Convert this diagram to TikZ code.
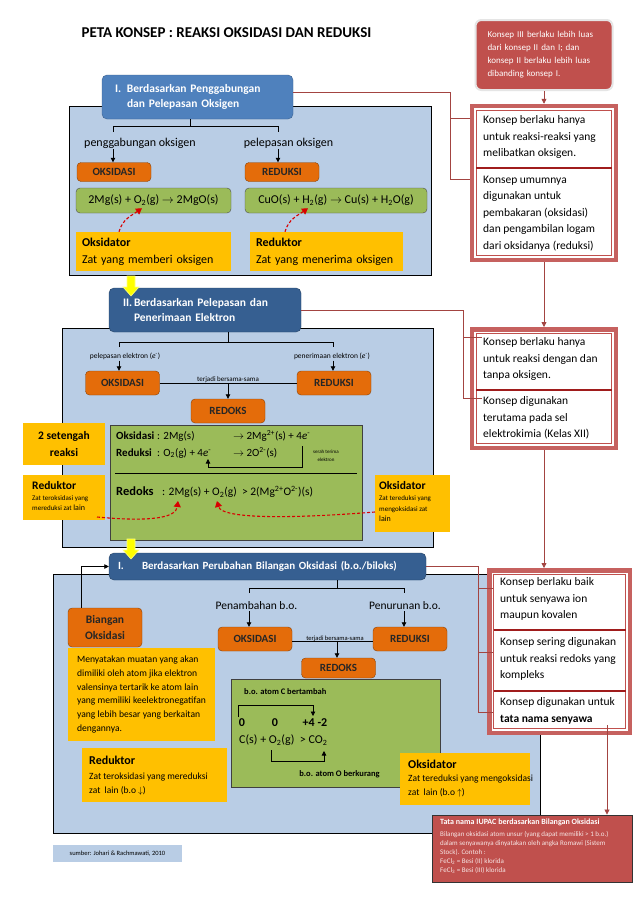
\documentclass[tikz,border=0pt]{standalone}
\usepackage{fontspec}
\setmainfont{Carlito}
\usetikzlibrary{arrows.meta}

\definecolor{panelbiru}{HTML}{B9CDE5}
\definecolor{birumuda}{HTML}{4F81BD}
\definecolor{birutua}{HTML}{365F91}
\definecolor{oranye}{HTML}{E46C0A}
\definecolor{hijau}{HTML}{9BBB59}
\definecolor{kuning}{HTML}{FFC000}
\definecolor{kuningterang}{HTML}{FFFF00}
\definecolor{merahbata}{HTML}{C0504D}
\definecolor{merahtua}{HTML}{A01C1C}

\newcommand\fsz[2]{\fontsize{#1}{#2}\selectfont}

\begin{document}
\begin{tikzpicture}[x=1pt,y=-1pt,
  panel/.style={draw=black, line width=0.9, fill=panelbiru},
  kepala/.style={draw=birumuda!75!black, fill=birumuda, rounded corners=5, text=white, font=\fsz{11.5}{15.5}\bfseries, align=left, inner ysep=0},
  kepalagelap/.style={kepala, draw=birutua!70!black, fill=birutua},
  kotakoranye/.style={draw=oranye!60!black, fill=oranye, rounded corners=4, font=\fsz{11}{13}\bfseries, text=black!85, minimum width=74, minimum height=24, inner sep=0},
  persamaan/.style={draw=black!70, fill=hijau, rounded corners=4, font=\fsz{12}{14}, minimum height=25, inner sep=0},
  panelhijau/.style={draw=black!75, line width=0.9, fill=hijau},
  kotakkuning/.style={fill=kuning, inner sep=0},
  keterangan/.style={inner sep=1, font=\fsz{12}{14}},
  pil/.style={-{Triangle[length=4.5,width=4.5]}, line width=0.8},
  kurung/.style={line width=0.8},
  merahputus/.style={draw=red!85!black, dash pattern=on 3pt off 2pt, line width=1.1, -{Triangle[length=6,width=7]}},
  garis/.style={draw=merahbata!85!black, line width=0.8},
  garispanah/.style={garis, -{Triangle[length=5,width=5]}},
  grup/.style={draw=merahbata!90!white, line width=4.5, fill=white},
  grupdalam/.style={draw=merahbata, line width=0.7},
  pemisah/.style={draw=merahtua, line width=1.6},
  konsep/.style={anchor=north west, inner sep=0, font=\fsz{11.5}{16.6}, align=left},
  panahkuning/.style={fill=kuningterang, draw=kuningterang!50!white, line width=0.6}
]
\useasboundingbox (0,0) rectangle (638,903);
\fill[white] (0,0) rectangle (638,903);

% judul
\node[anchor=west, font=\fsz{15}{17}\bfseries] (judul) at (78,33) {PETA KONSEP : REAKSI OKSIDASI DAN REDUKSI};

% konsep I
\node[panel, minimum width=362, minimum height=169] (pan1) at (250,190.5) {};
\node[kepala, text width=165, inner xsep=13, minimum height=44] (kep1) at (197.5,97) {\makebox[12pt][l]{I.}Berdasarkan Penggabungan\\\hspace*{12pt}dan Pelepasan Oksigen};
\coordinate (c10) at (190,126);
\coordinate (c11) at (113,126);
\coordinate (c12) at (278,126);
\draw[kurung] (kep1.south -| c10) -- (c10);
\draw[kurung] (c11) ++(0,6) -- (c11) -- (c12) -- ++(0,6);
\node[keterangan] (gab) at (140,143) {penggabungan oksigen};
\node[keterangan] (lep) at (288.5,143) {pelepasan oksigen};
\node[kotakoranye, minimum height=19] (oks1) at (114,172) {OKSIDASI};
\node[kotakoranye, minimum height=19] (red1) at (282,172) {REDUKSI};
\draw[pil] (gab.south -| c11) -- (oks1.north -| c11);
\draw[pil] (lep.south -| c12) -- (red1.north -| c12);
\node[persamaan, minimum width=155] (pers1) at (153.5,200.5) {2Mg(s) + O\textsubscript{2}(g) $\rightarrow$ 2MgO(s)};
\node[persamaan, minimum width=182] (pers2) at (336,200.5) {CuO(s) + H\textsubscript{2}(g) $\rightarrow$ Cu(s) + H\textsubscript{2}O(g)};
\node[kotakkuning, minimum width=155, minimum height=39, text width=143, inner xsep=6, align=left, font=\fsz{12}{17}] (oksi1) at (153.5,251.5) {\textbf{Oksidator}\\Zat yang memberi oksigen};
\node[kotakkuning, minimum width=153, minimum height=39, text width=141, inner xsep=6, align=left, font=\fsz{12}{17}] (redu1) at (326.5,251.5) {\textbf{Reduktor}\\Zat yang menerima oksigen};
\draw[merahputus] ([xshift=-34.5]oksi1.north) to[out=75,in=215] ([xshift=-11.5,yshift=5]pers1.south);
\draw[merahputus] ([xshift=-41.5]redu1.north) to[out=75,in=215] ([xshift=-28,yshift=5]pers2.south);

% konsep II
\node[panel, minimum width=371, minimum height=219] (pan2) at (247.5,437.5) {};
\node[kepalagelap, text width=164, inner xsep=14, minimum height=44] (kep2) at (205,310) {\makebox[11pt][l]{II.}Berdasarkan Pelepasan dan\\\hspace*{11pt}Penerimaan Elektron};
\filldraw[panahkuning] (127,276) -- (135,276) -- (135,287) -- (139,287) -- (131,296) -- (123,287) -- (127,287) -- cycle;
\coordinate (c20) at (228,342);
\coordinate (c21) at (119,342);
\coordinate (c22) at (333,342);
\draw[kurung] (kep2.south -| c20) -- (c20);
\draw[kurung] (c21) ++(0,5) -- (c21) -- (c22) -- ++(0,5);
\node[keterangan, font=\fsz{7.5}{9}] (lep2) at (125,356) {pelepasan elektron (\textit{e}\textsuperscript{-})};
\node[keterangan, font=\fsz{7.5}{9}] (ter2) at (332,356) {penerimaan elektron (\textit{e}\textsuperscript{-})};
\node[kotakoranye] (oks2) at (122.5,383) {OKSIDASI};
\node[kotakoranye] (red2) at (334,383) {REDUKSI};
\draw[pil] (lep2.south -| c21) -- (oks2.north -| c21);
\draw[pil] (ter2.south -| c22) -- (red2.north -| c22);
\coordinate (c23) at (oks2.east -| c20);
\draw[kurung] (oks2.east) -- (red2.west);
\node[inner sep=0, font=\fsz{7}{8}] (bersama2) at (228,379.5) {terjadi bersama-sama};
\node[kotakoranye] (rdk2) at (228,411) {REDOKS};
\draw[pil] (c23) -- (rdk2.north);
\node[panelhijau, minimum width=252, minimum height=115] (grn2) at (236,482.5) {};
\node[anchor=west, inner sep=0, font=\fsz{11}{12}] (oks2a) at (116,436) {\makebox[41pt][l]{\textbf{Oksidasi}}: 2Mg(s)};
\node[anchor=west, inner sep=0, font=\fsz{11}{12}] (oks2b) at (233,436) {$\rightarrow$ 2Mg\textsuperscript{2+}(s) + 4\textit{e}\textsuperscript{-}};
\node[anchor=west, inner sep=0, font=\fsz{11}{12}] (red2a) at (116,453) {\makebox[41pt][l]{\textbf{Reduksi}}: O\textsubscript{2}(g) + 4\textit{e}\textsuperscript{-}};
\node[anchor=west, inner sep=0, font=\fsz{11}{12}] (red2b) at (233,453) {$\rightarrow$ 2O\textsuperscript{2-}(s)};
\coordinate (st2) at (302,446);
\coordinate (st3) at (208,459);
\draw[pil] (st2) -- ++(0,21) -| (st3);
\node[align=center, inner sep=0, font=\fsz{5}{7.5}] (serah) at (326,456) {serah terima\\elektron};
\draw[line width=1] (115,473) -- (357,473);
\node[anchor=west, inner sep=0, font=\fsz{11.5}{13}] (rdk2a) at (116,492) {\makebox[46pt][l]{\fsz{12.5}{13}\bfseries Redoks}: 2Mg(s) + O\textsubscript{2}(g) \ > 2(Mg\textsuperscript{2+}O\textsuperscript{2-})(s)};
\node[kotakkuning, minimum width=82, minimum height=42, align=center, font=\fsz{11.5}{17}\bfseries] (stg) at (64,444) {2 setengah\\reaksi};
\node[kotakkuning, minimum width=82, minimum height=45] (redu2) at (64,497.5) {};
\node[anchor=west, inner sep=0, font=\fsz{11.5}{13}\bfseries] (redu2j) at (32,485) {Reduktor};
\node[anchor=north west, inner sep=0, align=left, font=\fsz{7}{10}] (redu2i) at (32,495.7) {Zat teroksidasi yang\\mereduksi zat {\fsz{8}{10}lain}};
\node[kotakkuning, minimum width=75, minimum height=57] (oksi2) at (412.5,503.5) {};
\node[anchor=west, inner sep=0, font=\fsz{11.5}{13}\bfseries] (oksi2j) at (379,485) {Oksidator};
\node[anchor=north west, inner sep=0, align=left, font=\fsz{7}{10.5}] (oksi2i) at (379,495.7) {Zat tereduksi yang\\mengoksidasi zat\\{\fsz{8}{10.5}lain}};
\coordinate (awalR) at (97,517);
\coordinate (awalO) at (375,512);
\coordinate (ujungMg) at (178,501);
\coordinate (ujungO) at (217,501);
\draw[merahputus] (awalR) .. controls (150,522) and (176,518) .. (ujungMg);
\draw[merahputus] (awalO) .. controls (300,518) and (222,520) .. (ujungO);

% konsep III
\node[panel, minimum width=487, minimum height=259] (pan3) at (296.5,703.5) {};
\node[kepalagelap, text width=299, inner xsep=9, minimum height=27, font=\fsz{11}{13}\bfseries] (kep3) at (267.5,566.5) {\makebox[24pt][l]{I.}Berdasarkan Perubahan Bilangan Oksidasi (b.o./biloks)};
\filldraw[panahkuning] (127,539) -- (135,539) -- (135,550) -- (139,550) -- (131,559) -- (123,550) -- (127,550) -- cycle;
\node[kotakoranye, minimum width=74, minimum height=39, align=center, font=\fsz{11.5}{16}\bfseries] (bia) at (105,627.5) {Biangan\\Oksidasi};
\draw[pil] ([xshift=-24]bia.north) |- (kep3.west);
\node[kotakkuning, minimum width=147, minimum height=93, align=left, font=\fsz{9.6}{13.8}] (defbo) at (141.5,694.5) {Menyatakan muatan yang akan\\dimiliki oleh atom jika elektron\\valensinya tertarik ke atom lain\\yang memiliki keelektronegatifan\\yang lebih besar yang berkaitan\\dengannya.};
\coordinate (c30) at (337,588);
\coordinate (c31) at (249,588);
\coordinate (c32) at (404,588);
\draw[kurung] (kep3.south -| c30) -- (c30);
\draw[kurung] (c31) ++(0,5) -- (c31) -- (c32) -- ++(0,5);
\node[keterangan, font=\fsz{11.5}{14}] (tam) at (256.5,606) {Penambahan b.o.};
\node[keterangan, font=\fsz{11.5}{14}] (tur) at (405,606) {Penurunan b.o.};
\node[kotakoranye] (oks3) at (255,639) {OKSIDASI};
\node[kotakoranye] (red3) at (410,639) {REDUKSI};
\draw[pil] (tam.south -| c31) -- (oks3.north -| c31);
\draw[pil] (tur.south -| c32) -- (red3.north -| c32);
\draw[kurung] ([yshift=-2]oks3.east) -- ([yshift=-2]red3.west);
\coordinate (c33) at (337,641);
\node[inner sep=0, font=\fsz{6.5}{8}] (bersama3) at (335,638.5) {terjadi bersama-sama};
\node[kotakoranye, minimum height=20] (rdk3) at (338.5,668) {REDOKS};
\draw[pil] (c33) -- (rdk3.north -| c33);
\node[panelhijau, minimum width=209, minimum height=108] (grn3) at (335.5,733) {};
\node[anchor=west, inner sep=0, font=\fsz{8.5}{10}\bfseries] (naikC) at (244,692) {b.o. atom C bertambah};
\coordinate (bc1) at (238,717);
\coordinate (bc2) at (313,716);
\draw[pil] (bc1) -- ++(0,-12) -| (bc2);
\node[inner sep=0, font=\fsz{12}{14}\bfseries] (bo1) at (242,723) {0};
\node[inner sep=0, font=\fsz{12}{14}\bfseries] (bo2) at (275,723) {0};
\node[inner sep=0, font=\fsz{12}{14}\bfseries] (bo3) at (315,723) {+4 -2};
\node[anchor=west, inner sep=0, font=\fsz{12}{14}] (rx3) at (239,740) {C(s) + O\textsubscript{2}(g) \ > CO\textsubscript{2}};
\coordinate (bo4) at (271,750);
\coordinate (bo5) at (324,751);
\draw[pil] (bo4) -- ++(0,11) -| (bo5);
\node[inner sep=0, font=\fsz{8.5}{10}\bfseries] (turunO) at (339.5,774) {b.o. atom O berkurang};
\node[kotakkuning, minimum width=145, minimum height=54] (redu3) at (154.5,775) {};
\node[anchor=west, inner sep=0, font=\fsz{12}{14}\bfseries] (redu3j) at (89,760) {Reduktor};
\node[anchor=north west, inner sep=0, align=left, font=\fsz{9.5}{14}] (redu3i) at (89,772.5) {Zat teroksidasi yang mereduksi\\zat\ \ lain (b.o $\downarrow$)};
\node[kotakkuning, minimum width=130, minimum height=52] (oksi3) at (465,779) {};
\node[anchor=west, inner sep=0, font=\fsz{12}{14}\bfseries] (oksi3j) at (408,764) {Oksidator};
\node[anchor=north west, inner sep=0, align=left, font=\fsz{9.5}{14}] (oksi3i) at (408,774.5) {Zat tereduksi yang mengoksidasi\\zat\ \ lain (b.o $\uparrow$)};
\node[fill=panelbiru, minimum width=129, minimum height=17, inner sep=0, font=\fsz{6.5}{8}] (sumber) at (117.5,853.5) {sumber: Johari \& Rachmawati, 2010};

% kotak konsep di kanan
\node[draw=white!80!gray, line width=2, fill=merahbata, rounded corners=6, minimum width=137, minimum height=70, text width=113, inner xsep=12, align=left, text=white, font=\fsz{9}{13}] (kons3) at (544,55) {Konsep III berlaku lebih luas\\dari konsep II dan I; dan\\konsep II berlaku lebih luas\\dibanding konsep I.};

\node[grup, minimum width=144, minimum height=154] (g1) at (544,183) {};
\draw[grupdalam] ([shift={(6.5,6.5)}]g1.north west) rectangle ([shift={(-6.5,-6.5)}]g1.south east);
\draw[pemisah] (476.25,168) -- (611.75,168);
\node[konsep] (sel1a) at (483,115.3) {Konsep berlaku hanya\\untuk reaksi-reaksi yang\\melibatkan oksigen.};
\node[konsep] (sel1b) at (483,175.6) {Konsep umumnya\\digunakan untuk\\pembakaran (oksidasi)\\dan pengambilan logam\\dari oksidanya (reduksi)};

\node[grup, minimum width=144, minimum height=118.5] (g2) at (544,388.5) {};
\draw[grupdalam] ([shift={(6.5,6.5)}]g2.north west) rectangle ([shift={(-6.5,-6.5)}]g2.south east);
\draw[pemisah] (476.25,390) -- (611.75,390);
\node[konsep] (sel2a) at (483,337.6) {Konsep berlaku hanya\\untuk reaksi dengan dan\\tanpa oksigen.};
\node[konsep] (sel2b) at (483,396.6) {Konsep digunakan\\terutama pada sel\\elektrokimia (Kelas XII)};

\node[grup, minimum width=140.5, minimum height=162.5] (g3) at (559.5,651.5) {};
\draw[grupdalam] ([shift={(6.5,6.5)}]g3.north west) rectangle ([shift={(-6.5,-6.5)}]g3.south east);
\draw[pemisah] (493.5,630) -- (625.5,630);
\draw[pemisah] (493.5,691) -- (625.5,691);
\node[konsep] (sel3a) at (500,577.6) {Konsep berlaku baik\\untuk senyawa ion\\maupun kovalen};
\node[konsep] (sel3b) at (500,637.6) {Konsep sering digunakan\\untuk reaksi redoks yang\\kompleks};
\node[konsep] (sel3c) at (500,697.6) {Konsep digunakan untuk\\\textbf{tata nama senyawa}};

\node[draw=black!80, line width=0.9, fill=merahbata, minimum width=200, minimum height=67] (tata) at (532,848.5) {};
\node[anchor=north west, inner sep=0, text=white, font=\fsz{8}{10}\bfseries] (tataj) at (440,819) {Tata nama IUPAC berdasarkan Bilangan Oksidasi};
\node[anchor=north west, inner sep=0, text=white!85!merahbata, align=left, font=\fsz{7}{8.8}] (tatai) at (440,831.5) {Bilangan oksidasi atom unsur (yang dapat memiliki > 1 b.o.)\\dalam senyawanya dinyatakan oleh angka Romawi (Sistem\\Stock). Contoh :\\FeCl\textsubscript{2} = Besi (II) klorida\\FeCl\textsubscript{3} = Besi (III) klorida};

% penghubung
\draw[garispanah] (kons3.south) -- (g1.north);
\draw[garispanah] (g1.south) -- (g2.north);
\draw[garispanah] (g2.south) -- (g2.south |- g3.north);
\coordinate (s1a) at (470,118);
\coordinate (s1b) at (470,179);
\draw[garis] ([yshift=5]kep1.east) -| ([xshift=-20]s1b) -- (s1b);
\draw[garis] ([xshift=-20]s1a) -- (s1a);
\coordinate (s2a) at (482,337);
\coordinate (s2b) at (482,398);
\draw[garis] (kep2.east) -| ([xshift=-19]s2b) -- (s2b);
\draw[garis] ([xshift=-19]s2a) -- (s2a);
\coordinate (s3a) at (493,588);
\coordinate (s3b) at (493,652);
\coordinate (s3c) at (493,712);
\draw[garis] (kep3.east) -| ([xshift=-15]s3c) -- (s3c);
\draw[garis] ([xshift=-15]s3a) -- (s3a);
\draw[garis] ([xshift=-15]s3b) -- (s3b);
\coordinate (s3d) at (607,725);
\draw[garispanah] (s3d) -- (s3d |- tata.north);
\end{tikzpicture}
\end{document}
